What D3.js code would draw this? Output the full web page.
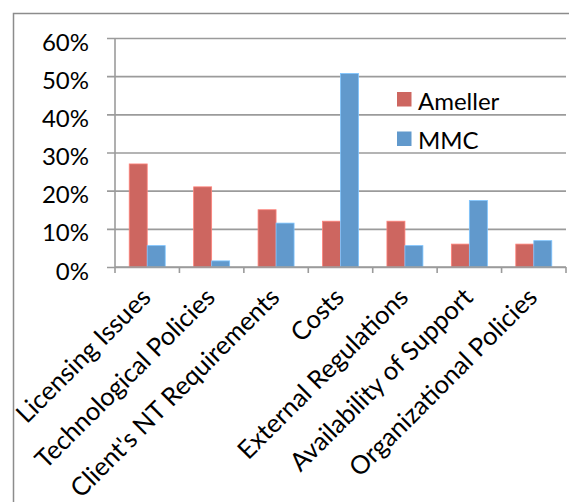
<!DOCTYPE html>
<html>
<head>
<meta charset="utf-8">
<script src="https://cdn.jsdelivr.net/npm/d3@7"></script>
<style>
    body { margin: 0; background: #fff; }
    text { font-family: Lato, "Open Sans", sans-serif; fill: #000; }
</style>
</head>
<body>
<div id="d3"></div>
<script>
const categories = ["Licensing Issues", "Technological Policies", "Client's NT Requirements", "Costs",
    "External Regulations", "Availability of Support", "Organizational Policies"]
const seriesNames = ["Ameller", "MMC"]
const ameller = [0.27, 0.21, 0.15, 0.12, 0.12, 0.06, 0.06]
const mmc = [0.056, 0.016, 0.115, 0.507, 0.056, 0.174, 0.069]
const yTicks = [0, 0.1, 0.2, 0.3, 0.4, 0.5, 0.6]
const colors = ["#cd6660", "#6199cc"]

const data = categories.map((c, i) => ({category: c, values: [ameller[i], mmc[i]]}))

const W = 569, H = 502
const margin = {top: 38, right: 3, bottom: 235, left: 115}
const width = W - margin.left - margin.right
const height = H - margin.top - margin.bottom

const svg = d3.select("#d3").append("svg")
    .attr("width", W)
    .attr("height", H)

// outer chart border (runs off the right and bottom of the picture)
svg.append("path")
    .attr("d", "M13.5," + H + "V13.5H" + W)
    .attr("fill", "none")
    .attr("stroke", "#8c8c8c")
    .attr("stroke-width", 1.5)

const g = svg.append("g")
    .attr("transform", "translate(" + margin.left + "," + margin.top + ")")

const x0 = d3.scaleBand()
    .domain(categories)
    .range([0, width])
const x1 = d3.scaleBand()
    .domain(seriesNames)
    .range([0, x0.bandwidth()])
    .paddingOuter(0.79)
const y = d3.scaleLinear()
    .domain([0, 0.6])
    .range([height, 0])

// gridlines and y labels
const yAxis = g.append("g")
    .call(d3.axisLeft(y).tickValues(yTicks).tickFormat(d3.format(".0%")).tickSize(-width - 8).tickPadding(18))
    .attr("transform", "translate(-8,0)")
yAxis.select(".domain").remove()
yAxis.selectAll(".tick line")
    .attr("x1", 0)
    .attr("x2", width + 8)
    .attr("stroke", "#9b9b9b")
    .attr("stroke-width", 1.6)
yAxis.selectAll(".tick text")
    .attr("x", -18)
    .attr("dy", "0.5em")
    .style("font-size", "24px")
    .style("font-family", "Lato, sans-serif")

// y axis line
g.append("line")
    .attr("x1", 0).attr("x2", 0)
    .attr("y1", 0).attr("y2", height)
    .attr("stroke", "#9b9b9b")
    .attr("stroke-width", 1.6)

// bars
g.selectAll(".group")
    .data(data)
    .enter()
    .append("g")
    .attr("class", "group")
    .attr("transform", d => "translate(" + x0(d.category) + ",0)")
    .selectAll("rect")
    .data(d => d.values.map((v, i) => ({name: seriesNames[i], value: v, i})))
    .enter()
    .append("rect")
    .attr("x", d => x1(d.name))
    .attr("width", x1.bandwidth())
    .attr("y", d => y(d.value))
    .attr("height", d => height - y(d.value))
    .attr("fill", d => colors[d.i])
    .attr("stroke", d => d3.color(colors[d.i]).brighter(0.7))
    .attr("stroke-width", 0.8)

// x axis with ticks on category boundaries
const xAxis = g.append("g")
    .attr("transform", "translate(0," + height + ")")
xAxis.append("line")
    .attr("x1", 0).attr("x2", width)
    .attr("stroke", "#9b9b9b")
    .attr("stroke-width", 1.6)
xAxis.selectAll(".bound")
    .data(categories.map(c => x0(c)).concat([width]))
    .enter()
    .append("line")
    .attr("class", "bound")
    .attr("x1", d => d).attr("x2", d => d)
    .attr("y1", 0).attr("y2", 6)
    .attr("stroke", "#9b9b9b")
    .attr("stroke-width", 1.6)
xAxis.selectAll(".xlabel")
    .data(categories)
    .enter()
    .append("text")
    .attr("class", "xlabel")
    .attr("text-anchor", "end")
    .attr("transform", d => "translate(" + (x0(d) + x0.bandwidth() / 2 + 5) + ",32) rotate(-45)")
    .style("font-size", "25.5px")
    .text(d => d)

// legend
const legend = svg.append("g")
    .attr("transform", "translate(397,92)")
seriesNames.forEach((name, i) => {
    legend.append("rect")
        .attr("x", 0)
        .attr("y", i * 39.5)
        .attr("width", 14.5)
        .attr("height", 14.5)
        .attr("fill", colors[i])
    legend.append("text")
        .attr("x", 21)
        .attr("y", i * 39.5 + 17.5)
        .style("font-size", "24px")
        .text(name)
})
</script>
</body>
</html>
